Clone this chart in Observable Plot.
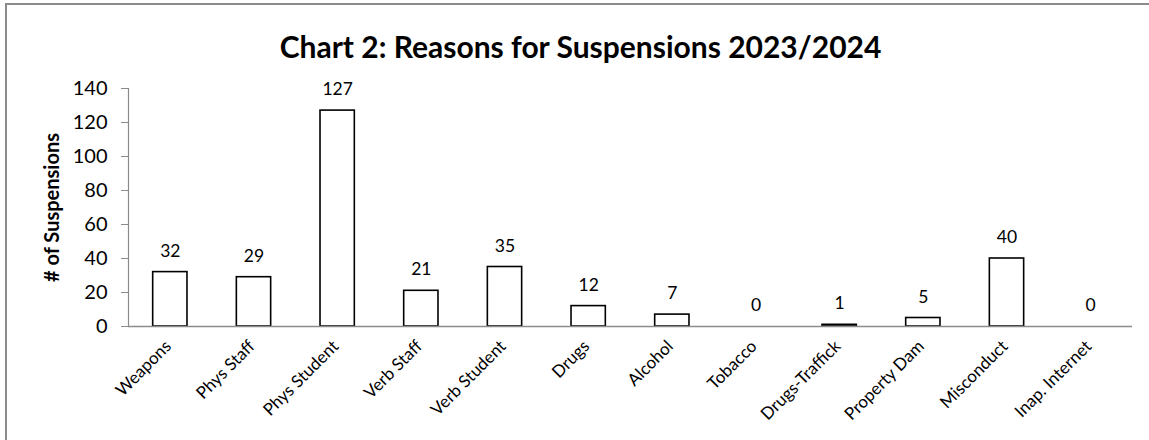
<!DOCTYPE html>
<html>
<head>
<meta charset="utf-8">
<script src="https://cdn.jsdelivr.net/npm/d3@7"></script>
<script src="https://cdn.jsdelivr.net/npm/@observablehq/plot@0.6"></script>
<style>
  html, body { margin: 0; padding: 0; background: #fff; }
  #wrap { position: relative; width: 1149px; height: 440px; overflow: hidden; font-family: Lato, "Open Sans", sans-serif; }
  #border { position: absolute; left: 5px; top: 3px; width: 1200px; height: 500px; border-left: 2px solid #8c8c8c; border-top: 2px solid #8c8c8c; box-sizing: border-box; }
  #title { position: absolute; left: 6px; width: 1149px; top: 31px; text-align: center; font-weight: 700; font-size: 30px; color: #000; line-height: 1; }
  #chart { position: absolute; left: 0; top: 60px; }
</style>
</head>
<body>
<div id="wrap">
  <div id="border"></div>
  <div id="title">Chart 2: Reasons for Suspensions 2023/2024</div>
  <div id="chart"></div>
</div>
<script>
const categories = ["Weapons", "Phys Staff", "Phys Student", "Verb Staff", "Verb Student", "Drugs", "Alcohol", "Tobacco", "Drugs-Traffick", "Property Dam", "Misconduct", "Inap. Internet"];
const values = [32, 29, 127, 21, 35, 12, 7, 0, 1, 5, 40, 0];
const yTicks = [0, 20, 40, 60, 80, 100, 120, 140];

const data = categories.map((c, i) => ({category: c, value: values[i]}));

const chart = Plot.plot({
  width: 1149,
  height: 380,
  marginLeft: 128,
  marginRight: 17,
  marginTop: 28,
  marginBottom: 114,
  style: {fontFamily: "Lato, 'Open Sans', sans-serif", fontSize: "17px", background: "transparent", color: "#000", overflow: "visible"},
  x: {domain: categories, paddingInner: 0.59, paddingOuter: 0.295, round: false, label: null},
  y: {domain: [0, 140], label: null},
  marks: [
    Plot.axisY({ticks: yTicks, tickSize: 7, text: null, stroke: "#8c8c8c", label: null}),
    Plot.text(yTicks, {y: d => d, frameAnchor: "left", textAnchor: "end", dx: -21, fontSize: 20, fill: "#000"}),
    Plot.text(["# of Suspensions"], {frameAnchor: "left", textAnchor: "middle", dx: -76, rotate: -90, fontSize: 20, fontWeight: "bold", fill: "#000"}),
    Plot.axisX({tickSize: 0, tickRotate: -45, tickPadding: 17, dx: -2, fontSize: 17, fill: "#000", label: null}),
    Plot.barY(data, {x: "category", y: "value", fill: "white", stroke: "#000", strokeWidth: 1.6}),
    Plot.ruleY([0], {stroke: "#8c8c8c", strokeWidth: 1.5}),
    Plot.frame({anchor: "left", stroke: "#8c8c8c", strokeWidth: 1.2}),
    Plot.text(data, {x: "category", y: "value", text: d => String(d.value), dy: -21, fontSize: 17.5, fill: "#000"})
  ]
});
document.getElementById("chart").appendChild(chart);
</script>
</body>
</html>
